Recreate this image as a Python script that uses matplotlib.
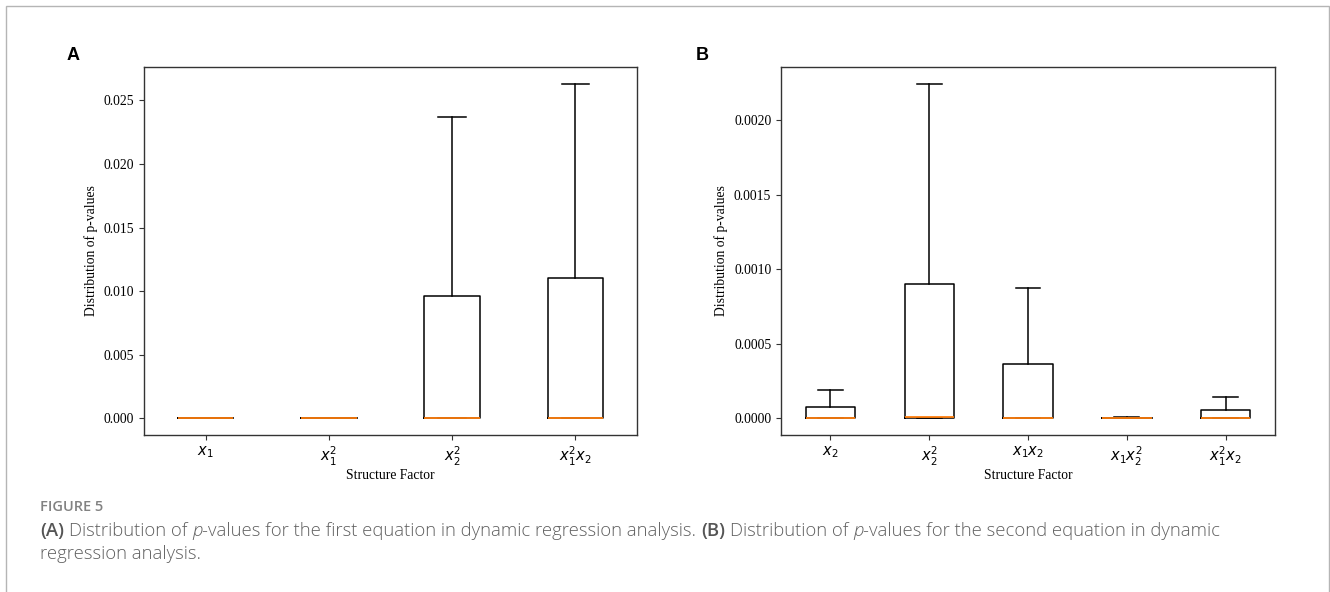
import matplotlib
matplotlib.use("Agg")
import matplotlib.pyplot as plt
from matplotlib.patches import Rectangle

plt.rcParams['font.family'] = ['Liberation Serif', 'DejaVu Serif']
plt.rcParams['mathtext.fontset'] = 'dejavusans'

# panel A: p-value distribution, first equation
labels_a = [r'$x_1$', r'$x_1^2$', r'$x_2^2$', r'$x_1^2x_2$']
q1_a = [0.0, 0.0, 0.0, 0.0]
med_a = [0.0, 0.0, 0.0, 0.0]
q3_a = [0.0, 0.0, 0.00959, 0.01100]
whislo_a = [0.0, 0.0, 0.0, 0.0]
whishi_a = [0.0, 0.0, 0.02372, 0.02631]

# panel B: p-value distribution, second equation
labels_b = [r'$x_2$', r'$x_2^2$', r'$x_1x_2$', r'$x_1x_2^2$', r'$x_1^2x_2$']
q1_b = [0.0, 0.0, 0.0, 0.0, 0.0]
med_b = [0.0, 0.000009, 0.0, 0.0, 0.0]
q3_b = [0.000078, 0.000903, 0.000366, 0.000005, 0.000058]
whislo_b = [0.0, 0.0, 0.0, 0.0, 0.0]
whishi_b = [0.000188, 0.002244, 0.000872, 0.000011, 0.000143]


def make_stats(labels, q1, med, q3, lo, hi):
    stats = []
    for i in range(len(labels)):
        stats.append({'label': labels[i], 'q1': q1[i], 'med': med[i], 'q3': q3[i],
                      'whislo': lo[i], 'whishi': hi[i], 'fliers': []})
    return stats


fig = plt.figure(figsize=(13.3, 5.92), dpi=100)

# light frame round the figure (bottom edge runs off the page)
fig.patches.append(Rectangle((6 / 1330, -0.1), 1322.5 / 1330, 0.1 + 586 / 592,
                             transform=fig.transFigure, fill=False,
                             edgecolor='#b5b5b5', linewidth=1.0))

ax_a = fig.add_axes([144 / 1330, 157 / 592, 493 / 1330, 368 / 592])
ax_b = fig.add_axes([781 / 1330, 157 / 592, 494 / 1330, 368 / 592])

boxkw = dict(showfliers=False,
             boxprops=dict(color='black', linewidth=1.1),
             whiskerprops=dict(color='black', linewidth=1.1),
             capprops=dict(color='black', linewidth=1.1),
             medianprops=dict(color='#ff7f0e', linewidth=1.3))

ax_a.bxp(make_stats(labels_a, q1_a, med_a, q3_a, whislo_a, whishi_a), **boxkw)
ax_b.bxp(make_stats(labels_b, q1_b, med_b, q3_b, whislo_b, whishi_b), **boxkw)

ax_b.set_yticks([0, 0.0005, 0.0010, 0.0015, 0.0020])
ax_b.set_yticklabels(['0.0000', '0.0005', '0.0010', '0.0015', '0.0020'])
ax_a.set_yticks([0, 0.005, 0.010, 0.015, 0.020, 0.025])
ax_a.set_yticklabels(['0.000', '0.005', '0.010', '0.015', '0.020', '0.025'])

for ax in (ax_a, ax_b):
    ax.set_xlabel('Structure Factor', fontsize=9.8, labelpad=1)
    ax.set_ylabel('Distribution of p-values', fontsize=9.8)
    ax.tick_params(axis='y', labelsize=9.8, color='#333333')
    ax.tick_params(axis='x', labelsize=10.5, color='#333333')
    for sp in ax.spines.values():
        sp.set_color('#333333')
        sp.set_linewidth(1.0)

fig.text(73 / 1330, 1 - 55 / 592, 'A', family='Liberation Sans', weight='bold',
         fontsize=13, ha='center', va='center')
fig.text(702 / 1330, 1 - 55 / 592, 'B', family='Liberation Sans', weight='bold',
         fontsize=13, ha='center', va='center')

# caption, laid out run by run so bold and italic pieces can mix
cap_font = 'Open Sans'
cap_size = 13.3
cap_color = '#606060'
renderer = fig.canvas.get_renderer()


def text_width(s, **kw):
    t = fig.text(0, 0, s, family=cap_font, fontsize=cap_size, **kw)
    w = t.get_window_extent(renderer).width
    t.remove()
    return w


space_w = text_width('x x', weight='light') - text_width('xx', weight='light')


def put_line(runs, x_px, y_px):
    x = x_px
    for s, kw in runs:
        lead = len(s) - len(s.lstrip(' '))
        trail = len(s) - len(s.rstrip(' '))
        x += lead * space_w
        core = s.strip(' ')
        t = fig.text(x / 1330, 1 - y_px / 592, core, family=cap_font, fontsize=cap_size,
                     color=kw.get('color', cap_color), va='center', ha='left',
                     weight=kw.get('weight', 'light'), style=kw.get('style', 'normal'))
        x += t.get_window_extent(renderer).width + trail * space_w


fig.text(40 / 1330, 1 - 507 / 592, 'FIGURE 5', family=cap_font, fontsize=10.5,
         weight='semibold', color='#828282', va='center', ha='left')

bold = dict(weight='semibold', color='#555555')
ital = dict(style='italic')
plain = dict()
put_line([('(A)', bold), (' Distribution of ', plain), ('p', ital),
          ('-values for the first equation in dynamic regression analysis. ', plain),
          ('(B)', bold), (' Distribution of ', plain), ('p', ital),
          ('-values for the second equation in dynamic', plain)], 40, 531)
put_line([('regression analysis.', plain)], 40, 554)

fig.savefig('out.png', dpi=100)
